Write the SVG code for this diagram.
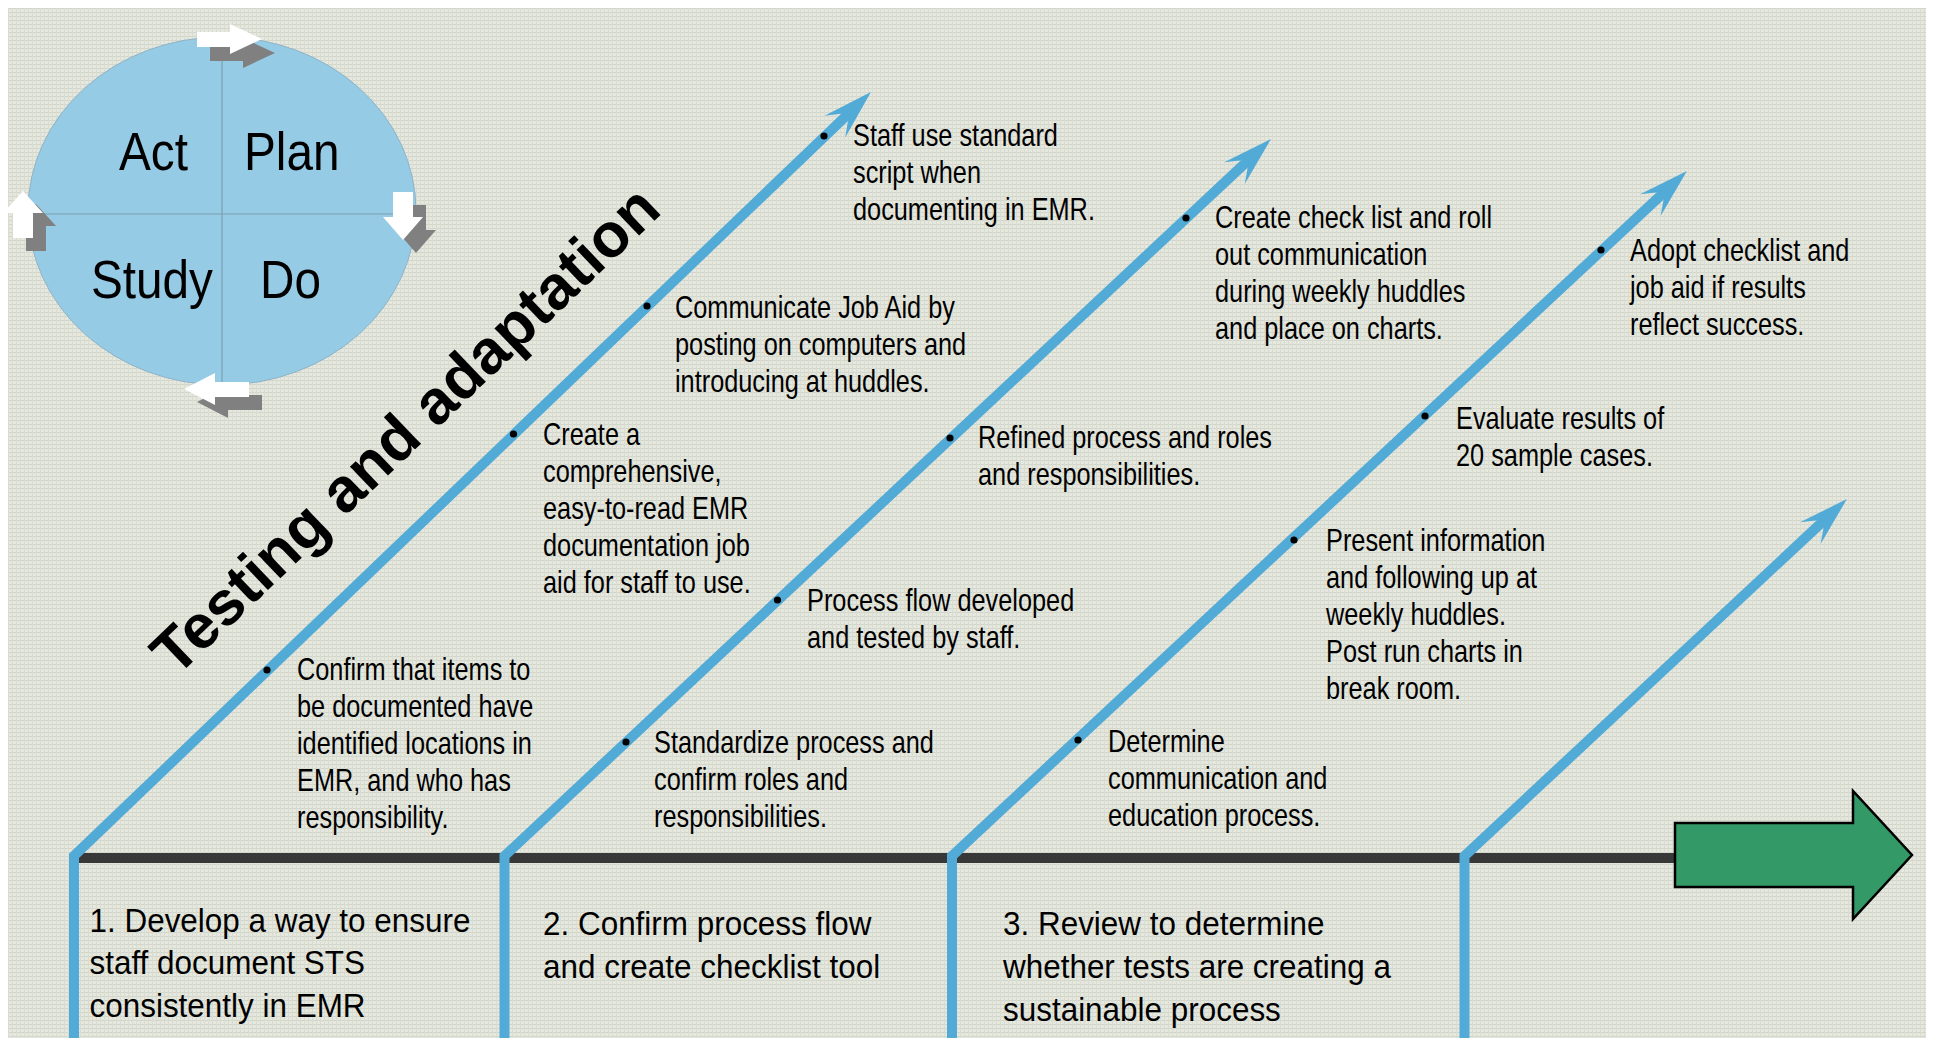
<svg xmlns="http://www.w3.org/2000/svg" width="1933" height="1038" viewBox="0 0 1933 1038">
<defs>
<pattern id="bgp" width="4" height="4" patternUnits="userSpaceOnUse">
<rect width="4" height="4" fill="#e6e8e0"/>
<rect width="4" height="1" fill="#d2d5c9"/>
<rect width="1" height="4" fill="#d9dcd0"/>
</pattern>
<marker id="ah" markerUnits="userSpaceOnUse" markerWidth="52" markerHeight="40" refX="20" refY="20" orient="auto" overflow="visible">
<path d="M50,20 L0,5 L20,20 L0,35 Z" fill="#52aad6"/>
</marker>
<style>
.bg{fill:url(#bgp)}
.blue{fill:none;stroke:#52aad6;stroke-width:10;stroke-linejoin:miter;marker-end:url(#ah)}
.dot{fill:#000}
.t{font-family:'Liberation Sans',Arial,sans-serif;font-size:30.5px;fill:#000}
.lab{font-family:'Liberation Sans',Arial,sans-serif;font-size:34px;fill:#000}
.pdsa{font-family:'Liberation Sans',Arial,sans-serif;font-size:53px;fill:#000}
.title{font-family:'Liberation Sans',Arial,sans-serif;font-size:62px;font-weight:bold;fill:#000}
.wa{fill:#fff}
.ga{fill:#808080}
.div{stroke:#7d9fb2;stroke-width:1.2;fill:none}
</style>
</defs>
<rect width="1933" height="1038" fill="#fff"/>
<rect class="bg" x="8" y="8" width="1918" height="1030"/>

<g id="pdsa-cycle">
<ellipse cx="222" cy="211" rx="194" ry="174" fill="#96cbe5" stroke="#8fb3c6" stroke-width="1"/>
<line class="div" x1="222" y1="37" x2="222" y2="385"/>
<line class="div" x1="28" y1="214" x2="416" y2="214"/>
<text class="pdsa" transform="translate(119,170) scale(0.9,1)">Act</text>
<text class="pdsa" transform="translate(244,170) scale(0.9,1)">Plan</text>
<text class="pdsa" transform="translate(91,298) scale(0.9,1)">Study</text>
<text class="pdsa" transform="translate(260,298) scale(0.9,1)">Do</text>
<polygon class="ga" points="210,46 243,46 243,38 275,53 243,68 243,61 210,61"/>
<polygon class="wa" points="197,32 230,32 230,24 262,39 230,54 230,47 197,47"/>
<polygon class="ga" points="406,205 426,205 426,230 436,230 416,253 396,230 406,230"/>
<polygon class="wa" points="393,192 413,192 413,217 423,217 403,240 383,217 393,217"/>
<polygon class="ga" points="26,251 46,251 46,226 56,226 36,204 16,226 26,226"/>
<polygon class="wa" points="13,238 33,238 33,213 43,213 23,191 3,213 13,213"/>
<polygon class="ga" points="262,395 228,395 228,386 197,402 228,418 228,410 262,410"/>
<polygon class="wa" points="249,382 215,382 215,373 184,389 215,405 215,397 249,397"/>
</g>

<g id="title">
<text class="title" transform="translate(176,678) rotate(-43.7)">Testing and adaptation</text>
</g>

<g id="connectors">
<rect x="74" y="853" width="1602" height="10" fill="#383838"/>
<path class="blue" d="M74,1040 L74,856 L849.3,112.8"/>
<path class="blue" d="M504.5,1040 L504.5,856 L1249.1,159.5"/>
<path class="blue" d="M952,1040 L952,856 L1665,191.5"/>
<path class="blue" d="M1464.5,1040 L1464.5,856 L1825,519.5"/>
</g>

<g id="end-arrow">
<polygon points="1675,823 1853,823 1853,791 1912,855 1853,919 1853,887 1675,887" fill="#339966" stroke="#000" stroke-width="2.5"/>
</g>

<g id="bullets">
<circle class="dot" cx="824" cy="136" r="3.6"/>
<circle class="dot" cx="647" cy="306" r="3.6"/>
<circle class="dot" cx="513.5" cy="434" r="3.6"/>
<circle class="dot" cx="267" cy="670" r="3.6"/>
<circle class="dot" cx="1186" cy="218" r="3.6"/>
<circle class="dot" cx="950" cy="438" r="3.6"/>
<circle class="dot" cx="777.5" cy="600" r="3.6"/>
<circle class="dot" cx="626" cy="742" r="3.6"/>
<circle class="dot" cx="1601" cy="250" r="3.6"/>
<circle class="dot" cx="1425" cy="416" r="3.6"/>
<circle class="dot" cx="1294" cy="540" r="3.6"/>
<circle class="dot" cx="1078" cy="740" r="3.6"/>
</g>

<g id="item-a"><text class="t" transform="translate(853,146) scale(0.83,1)"><tspan x="0" y="0">Staff use standard</tspan><tspan x="0" dy="37">script when</tspan><tspan x="0" dy="37">documenting in EMR.</tspan></text></g>
<g id="item-b"><text class="t" transform="translate(675,318) scale(0.83,1)"><tspan x="0" y="0">Communicate Job Aid by</tspan><tspan x="0" dy="37">posting on computers and</tspan><tspan x="0" dy="37">introducing at huddles.</tspan></text></g>
<g id="item-c"><text class="t" transform="translate(543,445) scale(0.83,1)"><tspan x="0" y="0">Create a</tspan><tspan x="0" dy="37">comprehensive,</tspan><tspan x="0" dy="37">easy-to-read EMR</tspan><tspan x="0" dy="37">documentation job</tspan><tspan x="0" dy="37">aid for staff to use.</tspan></text></g>
<g id="item-d"><text class="t" transform="translate(297,680) scale(0.83,1)"><tspan x="0" y="0">Confirm that items to</tspan><tspan x="0" dy="37">be documented have</tspan><tspan x="0" dy="37">identified locations in</tspan><tspan x="0" dy="37">EMR, and who has</tspan><tspan x="0" dy="37">responsibility.</tspan></text></g>
<g id="item-e"><text class="t" transform="translate(1215,228) scale(0.83,1)"><tspan x="0" y="0">Create check list and roll</tspan><tspan x="0" dy="37">out communication</tspan><tspan x="0" dy="37">during weekly huddles</tspan><tspan x="0" dy="37">and place on charts.</tspan></text></g>
<g id="item-f"><text class="t" transform="translate(978,448) scale(0.83,1)"><tspan x="0" y="0">Refined process and roles</tspan><tspan x="0" dy="37">and responsibilities.</tspan></text></g>
<g id="item-g"><text class="t" transform="translate(807,611) scale(0.83,1)"><tspan x="0" y="0">Process flow developed</tspan><tspan x="0" dy="37">and tested by staff.</tspan></text></g>
<g id="item-h"><text class="t" transform="translate(654,753) scale(0.83,1)"><tspan x="0" y="0">Standardize process and</tspan><tspan x="0" dy="37">confirm roles and</tspan><tspan x="0" dy="37">responsibilities.</tspan></text></g>
<g id="item-i"><text class="t" transform="translate(1630,261) scale(0.83,1)"><tspan x="0" y="0">Adopt checklist and</tspan><tspan x="0" dy="37">job aid if results</tspan><tspan x="0" dy="37">reflect success.</tspan></text></g>
<g id="item-j"><text class="t" transform="translate(1456,429) scale(0.83,1)"><tspan x="0" y="0">Evaluate results of</tspan><tspan x="0" dy="37">20 sample cases.</tspan></text></g>
<g id="item-k"><text class="t" transform="translate(1326,551) scale(0.83,1)"><tspan x="0" y="0">Present information</tspan><tspan x="0" dy="37">and following up at</tspan><tspan x="0" dy="37">weekly huddles.</tspan><tspan x="0" dy="37">Post run charts in</tspan><tspan x="0" dy="37">break room.</tspan></text></g>
<g id="item-l"><text class="t" transform="translate(1108,752) scale(0.83,1)"><tspan x="0" y="0">Determine</tspan><tspan x="0" dy="37">communication and</tspan><tspan x="0" dy="37">education process.</tspan></text></g>

<g id="step-1"><text class="lab" transform="translate(89.5,932) scale(0.925,1)"><tspan x="0" y="0">1. Develop a way to ensure</tspan><tspan x="0" dy="42.5">staff document STS</tspan><tspan x="0" dy="42.5">consistently in EMR</tspan></text></g>
<g id="step-2"><text class="lab" transform="translate(543,935) scale(0.925,1)"><tspan x="0" y="0">2. Confirm process flow</tspan><tspan x="0" dy="43">and create checklist tool</tspan></text></g>
<g id="step-3"><text class="lab" transform="translate(1003,935) scale(0.925,1)"><tspan x="0" y="0">3. Review to determine</tspan><tspan x="0" dy="43">whether tests are creating a</tspan><tspan x="0" dy="43">sustainable process</tspan></text></g>
</svg>
